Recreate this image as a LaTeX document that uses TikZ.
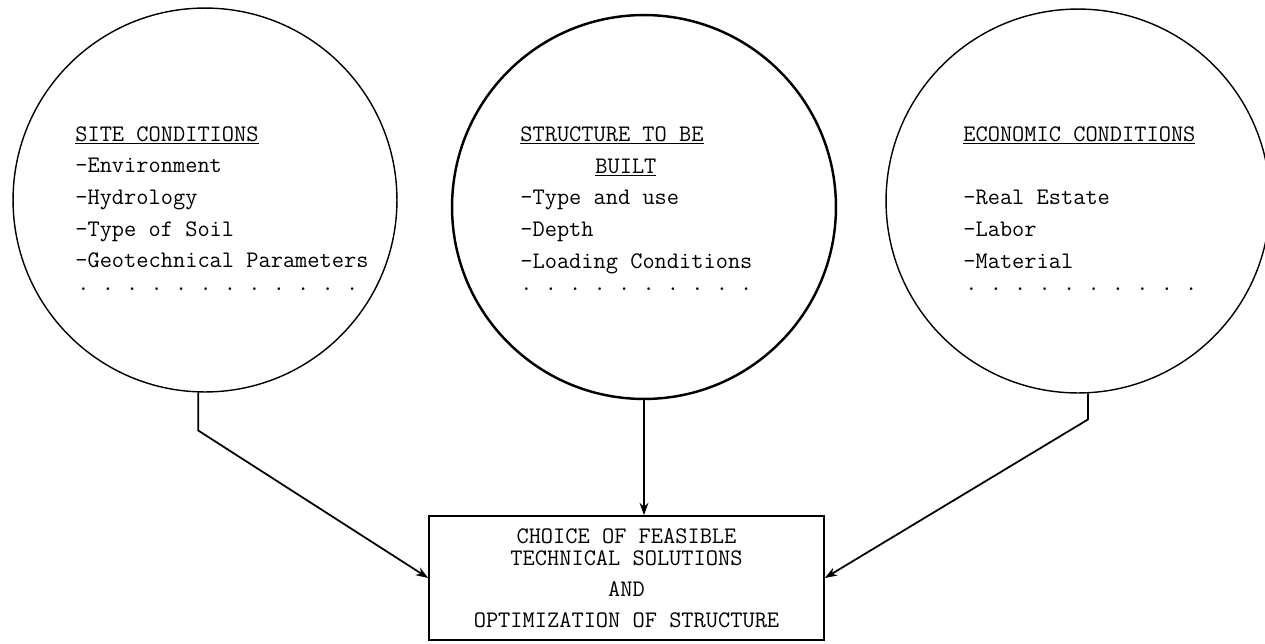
\documentclass[tikz,border=0pt]{standalone}
\usepackage{fontspec}
\usepackage{tikz}
\usetikzlibrary{arrows.meta, positioning}

\tikzset{
  bubble/.style={draw,circle,line width=0.8pt,minimum size=7.68cm,inner sep=0pt},
  txt/.style={anchor=base west,inner sep=0pt,font=\ttfamily\frenchspacing\fontsize{13.5}{15}\selectfont},
  flow/.style={draw=black,line width=1pt,-{Stealth[length=7pt,width=5pt]}},
}

\begin{document}
\begin{tikzpicture}[x=0.02cm,y=-0.02cm]
        \useasboundingbox (0,0) rectangle (1265,643);
        % the three circles
        \node[bubble] (site) at (205,200) {};
        \node[bubble,line width=1.4pt] (build) at (644,207) {};
        \node[bubble] (econ) at (1078,201) {};

        % site conditions
        \node[txt] (site-h) at (75,141) {\underline{SITE CONDITIONS}};
        \foreach \t [count=\i] in {-Environment,-Hydrology,-Type of Soil,-Geotechnical Parameters}
          \node[txt] (site-\i) at (75,141+31.7*\i) {\t};
        \node[txt] (site-dots) at (77,290) {. . . . . . . . . . . .};

        % structure to be built
        \node[txt] (build-h) at (520,141) {\underline{STRUCTURE TO BE}};
        \node[txt] (build-h2) at (595,173) {\underline{BUILT}};
        \foreach \t [count=\i] in {-Type and use,-Depth,-Loading Conditions}
          \node[txt] (build-\i) at (520,173+31.7*\i) {\t};
        \node[txt] (build-dots) at (520,290) {. . . . . . . . . .};

        % economic conditions
        \node[txt] (econ-h) at (963,141) {\underline{ECONOMIC CONDITIONS}};
        \foreach \t [count=\i] in {-Real Estate,-Labor,-Material}
          \node[txt] (econ-\i) at (963,173+31.7*\i) {\t};
        \node[txt] (econ-dots) at (965,290) {. . . . . . . . . .};

        % result box
        \node[draw,line width=1pt,minimum width=7.9cm,minimum height=2.48cm,align=center,
              font=\ttfamily\fontsize{13.5}{13}\selectfont] (choice) at (626.5,578)
          {CHOICE OF FEASIBLE\\TECHNICAL SOLUTIONS\\[4.5pt]AND\\[4.5pt]OPTIMIZATION OF STRUCTURE};

        % connectors
        \path (site.268.5) ++(0,38) coordinate (site-bend);
        \path (econ.273) ++(0,26) coordinate (econ-bend);
        \draw[flow] (site.268.5) -- (site-bend) -- (choice.west);
        \draw[flow] (build.south) -- (build.south |- choice.north);
        \draw[flow] (econ.273) -- (econ-bend) -- (choice.east);
      \end{tikzpicture}
\end{document}
